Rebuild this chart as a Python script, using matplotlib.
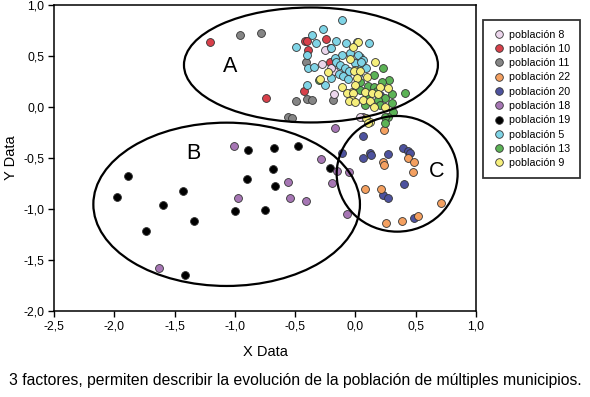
import matplotlib
matplotlib.use("Agg")
import matplotlib.pyplot as plt
from matplotlib.patches import Ellipse
from matplotlib.lines import Line2D

plt.rcParams['font.family'] = ['Liberation Sans', 'DejaVu Sans']

# ---------------- data ----------------
series_names = ["población 8", "población 10", "población 11", "población 22",
                "población 20", "población 18", "población 19", "población 5",
                "población 13", "población 9"]

pop8_x = [-0.25, -0.28, -0.18, -0.20, -0.175, 0.04]
pop8_y = [0.56, 0.42, 0.355, 0.38, 0.125, -0.095]

pop10_x = [-1.21, -0.74, -0.42, -0.40, -0.245, -0.39, -0.21, -0.21, -0.43]
pop10_y = [0.64, 0.09, 0.65, 0.65, 0.67, 0.56, 0.58, 0.44, 0.16]

pop11_x = [-0.955, -0.78, -0.41, -0.49, -0.405, -0.36, -0.19, -0.557, -0.524]
pop11_y = [0.71, 0.725, 0.445, 0.06, 0.08, 0.07, 0.07, -0.095, -0.11]

pop22_x = [0.24, 0.231, 0.236, 0.438, 0.485, 0.474, 0.079, 0.209, 0.706, 0.253, 0.383, 0.521]
pop22_y = [-0.225, -0.536, -0.569, -0.503, -0.536, -0.634, -0.804, -0.807, -0.938, -1.134, -1.114, -1.069]

pop20_x = [-0.115, 0.20, 0.065, 0.065, 0.12, 0.129, 0.272, 0.396, 0.438, 0.452, 0.405, 0.225, 0.272, 0.488]
pop20_y = [-0.454, 0.12, -0.281, -0.497, -0.448, -0.47, -0.464, -0.405, -0.428, -0.454, -0.755, -0.863, -0.895, -1.091]

pop18_x = [-1.007, -0.972, -0.562, -0.546, -0.410, -0.286, -0.170, -0.151, -0.195, -0.056, -0.068, -1.627, 0.06]
pop18_y = [-0.382, -0.889, -0.738, -0.895, -0.922, -0.507, -0.203, -0.624, -0.748, -0.634, -1.052, -1.581, -0.10]

pop19_x = [-1.889, -1.975, -1.737, -1.599, -1.428, -1.339, -1.414, -0.894, -0.678, -0.477,
           -0.687, -0.897, -0.667, -0.997, -0.753, -0.209]
pop19_y = [-0.673, -0.879, -1.216, -0.961, -0.824, -1.118, -1.647, -0.422, -0.402, -0.379,
           -0.611, -0.706, -0.775, -1.020, -1.013, -0.601]

pop5_x = [-0.11, -0.27, -0.36, -0.33, -0.16, -0.08, 0.01, 0.11, -0.49, -0.20, -0.40, -0.115,
          -0.17, 0.04, -0.045, 0.025, 0.065, -0.39, -0.34, -0.16, -0.13, -0.09, -0.05, 0.04,
          0.085, -0.14, -0.10, -0.20, -0.40, -0.25, 0.0, 0.05, 0.02, -0.06]
pop5_y = [0.85, 0.76, 0.71, 0.63, 0.65, 0.63, 0.64, 0.63, 0.59, 0.575, 0.51, 0.51,
          0.48, 0.49, 0.525, 0.51, 0.46, 0.38, 0.395, 0.44, 0.41, 0.38, 0.35, 0.38,
          0.38, 0.32, 0.30, 0.28, 0.215, 0.215, 0.43, 0.445, 0.31, 0.27]

pop13_x = [-0.30, 0.04, 0.23, 0.15, 0.28, 0.105, 0.15, 0.04, 0.41, 0.245, 0.19, 0.08,
           0.20, 0.30, 0.31, 0.27, 0.245, 0.245, 0.22, 0.18, 0.30, 0.10]
pop13_y = [0.26, 0.25, 0.38, 0.31, 0.265, 0.21, 0.20, 0.17, 0.14, 0.085, 0.07, 0.02,
           0.02, 0.035, -0.05, -0.095, -0.095, -0.16, 0.25, 0.16, 0.13, 0.10]

pop9_x = [0.025, -0.02, -0.045, 0.16, 0.0, -0.01, 0.04, -0.23, 0.10, 0.01, -0.29, -0.115,
          0.0, 0.20, 0.27, -0.03, 0.08, 0.135, 0.19, -0.07, -0.02, -0.03, 0.065, 0.12,
          -0.055, 0.0, 0.155, 0.245, 0.09, 0.12, 0.106]
pop9_y = [0.64, 0.585, 0.47, 0.445, 0.36, 0.35, 0.35, 0.34, 0.29, 0.28, 0.275, 0.20,
          0.215, 0.20, 0.19, 0.145, 0.15, 0.135, 0.125, 0.135, 0.135, 0.07, 0.07, 0.06,
          0.06, 0.045, 0.003, 0.003, -0.105, -0.145, -0.16]

xs = [pop8_x, pop10_x, pop11_x, pop22_x, pop20_x, pop18_x, pop19_x, pop5_x, pop13_x, pop9_x]
ys = [pop8_y, pop10_y, pop11_y, pop22_y, pop20_y, pop18_y, pop19_y, pop5_y, pop13_y, pop9_y]

colors = ["#ecd6ec", "#d8404a", "#858585", "#f4a060", "#4d529e",
          "#a676b4", "#000000", "#7fd4e6", "#5cb356", "#f6ef7c"]

x_ticks = [-2.5, -2.0, -1.5, -1.0, -0.5, 0.0, 0.5, 1.0]
x_tick_labels = ["-2,5", "-2,0", "-1,5", "-1,0", "-0,5", "0,0", "0,5", "1,0"]
y_ticks = [-2.0, -1.5, -1.0, -0.5, 0.0, 0.5, 1.0]
y_tick_labels = ["-2,0", "-1,5", "-1,0", "-0,5", "0,0", "0,5", "1,0"]

caption = "3 factores, permiten describir la evolución de la población de múltiples municipios."

# ---------------- figure ----------------
fig = plt.figure(figsize=(5.9, 3.97), dpi=100)
ax = fig.add_axes([0.0915, 0.2166, 0.8068 - 0.0915, 0.9874 - 0.2166])

draw_order = [6, 5, 4, 3, 1, 2, 0, 7, 8, 9]
for i in draw_order:
    ax.scatter(xs[i], ys[i], s=32, c=colors[i], edgecolors="#333333",
               linewidths=0.6, zorder=3)

# cluster ellipses
ax.add_patch(Ellipse((-0.369, 0.412), 2.106, 1.127, fill=False, lw=1.6, ec="black", zorder=4))
ax.add_patch(Ellipse((-1.068, -0.954), 2.211, 1.601, fill=False, lw=1.6, ec="black", zorder=4))
ax.add_patch(Ellipse((0.346, -0.655), 1.003, 1.134, fill=False, lw=1.6, ec="black", zorder=4))
ax.text(-1.04, 0.395, "A", fontsize=15.5, ha="center", va="center")
ax.text(-1.345, -0.454, "B", fontsize=15.5, ha="center", va="center")
ax.text(0.673, -0.634, "C", fontsize=15.5, ha="center", va="center")

ax.set_xlim(-2.5, 1.0)
ax.set_ylim(-2.0, 1.0)
ax.set_xticks(x_ticks)
ax.set_xticklabels(x_tick_labels)
ax.set_yticks(y_ticks)
ax.set_yticklabels(y_tick_labels)
ax.tick_params(direction="out", length=4, width=1.0, labelsize=8.7, pad=3)
for sp in ax.spines.values():
    sp.set_linewidth(1.1)
ax.set_xlabel("X Data", fontsize=10.5, labelpad=9)
ax.set_ylabel("Y Data", fontsize=10.5, labelpad=4)

handles = [Line2D([], [], marker="o", linestyle="none", markersize=5.5,
                  markerfacecolor=colors[i], markeredgecolor="#333333",
                  markeredgewidth=0.6) for i in range(len(series_names))]
leg = fig.legend(handles, series_names, loc="upper left",
                 bbox_to_anchor=(0.8186, 0.9496), borderaxespad=0,
                 fontsize=7.7, frameon=True, fancybox=False, edgecolor="black",
                 labelspacing=0.4, handletextpad=0.3, handlelength=1.2,
                 borderpad=0.9)
leg.get_frame().set_linewidth(1.3)

fig.text(0.5, 1 - 381 / 397, caption, fontsize=11.3, ha="center", va="center")

fig.savefig("out.png", dpi=100)
